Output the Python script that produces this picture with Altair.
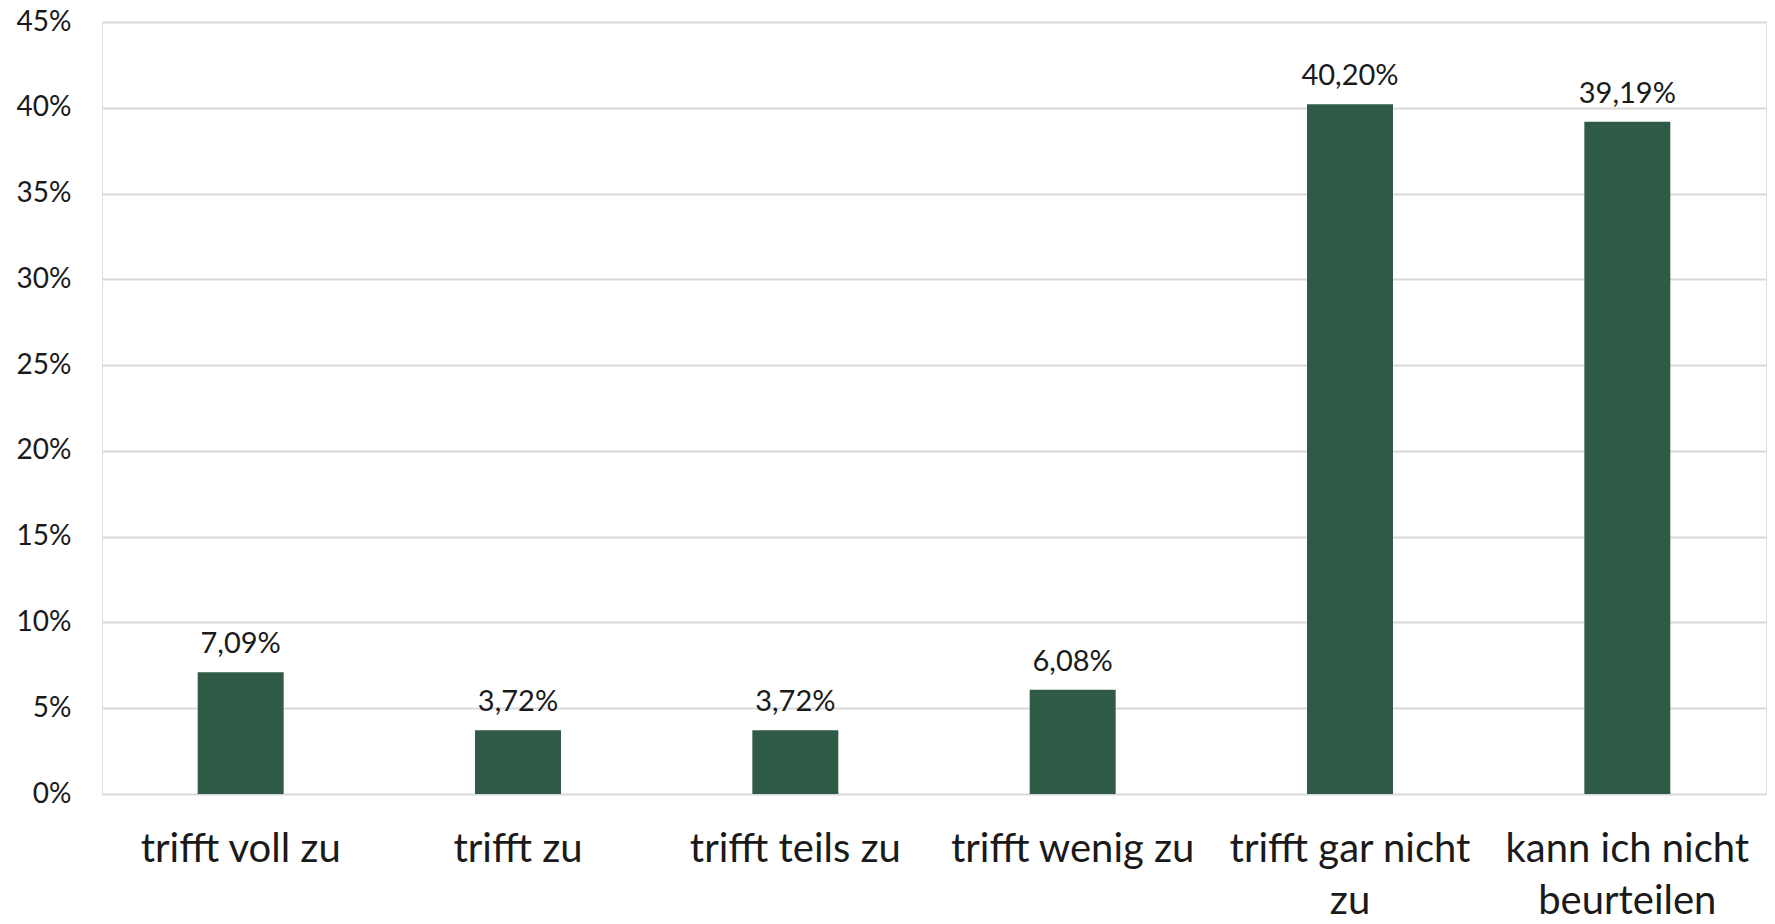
import altair as alt
import pandas as pd

categories = ["trifft voll zu", "trifft zu", "trifft teils zu", "trifft wenig zu",
              "trifft gar nicht zu", "kann ich nicht beurteilen"]
values = [7.09, 3.72, 3.72, 6.08, 40.20, 39.19]
value_labels = ["7,09%", "3,72%", "3,72%", "6,08%", "40,20%", "39,19%"]
y_ticks = [0, 5, 10, 15, 20, 25, 30, 35, 40, 45]

df = pd.DataFrame({"cat": categories, "val": values, "lab": value_labels})

FONT = "Lato"
TEXT = "#1a1a1a"

label_expr = (
    "datum.label == 'trifft gar nicht zu' ? ['trifft gar nicht', 'zu'] : "
    "datum.label == 'kann ich nicht beurteilen' ? ['kann ich nicht', 'beurteilen'] : datum.label"
)

x = alt.X("cat:N", sort=categories, title=None,
          scale=alt.Scale(paddingInner=0.69, paddingOuter=0.345),
          axis=alt.Axis(labelAngle=0, labelFont=FONT, labelFontSize=40, labelColor=TEXT,
                        labelPadding=35, labelLineHeight=52, labelBaseline="top",
                        labelLimit=0, labelOverlap=False,
                        ticks=False, domain=False, labelExpr=label_expr))
y = alt.Y("val:Q", title=None,
          scale=alt.Scale(domain=[0, 45], nice=False),
          axis=alt.Axis(values=y_ticks, labelExpr="datum.value + '%'", labelFont=FONT,
                        labelFontSize=28, labelColor=TEXT, labelPadding=31, ticks=False,
                        domain=False, gridColor="#d9d9d9", gridWidth=2))

bars = alt.Chart(df).mark_bar(color="#2f5a45").encode(x=x, y=y)
labels = alt.Chart(df).mark_text(font=FONT, fontSize=29, color=TEXT, baseline="alphabetic",
                                 dy=-19).encode(x=alt.X("cat:N", sort=categories),
                                                 y="val:Q", text="lab:N")

chart = (bars + labels).properties(
    width=1664, height=772,
    autosize=alt.AutoSizeParams(type="none"),
    padding={"left": 94, "top": 14, "right": 1, "bottom": 126},
).configure_view(stroke=None).configure(background="white")

chart.save("out.html", embed_options={"renderer": "svg", "actions": False})
